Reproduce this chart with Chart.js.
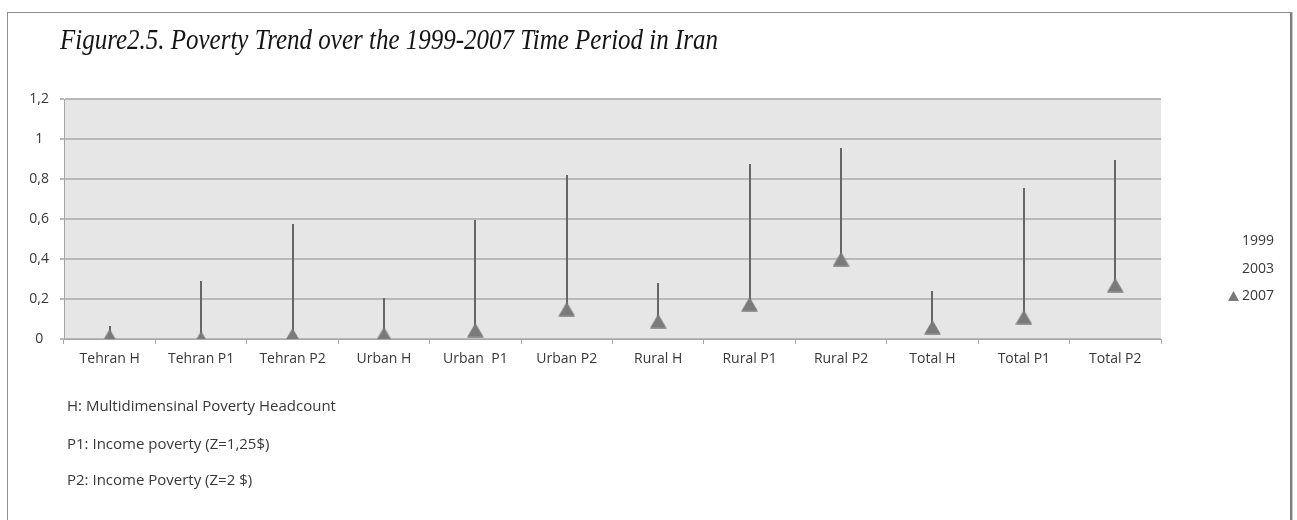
<!DOCTYPE html>
<html>
<head>
<meta charset="utf-8">
<script src="https://cdn.jsdelivr.net/npm/chart.js@4"></script>
<style>
  html, body { margin: 0; padding: 0; background: #fff; }
  #wrap { position: relative; width: 1297px; height: 520px; overflow: hidden; }
  #frame {
    position: absolute; left: 7px; top: 12px; width: 1282px; height: 600px;
    border-left: 1px solid #8e8e8e; border-top: 1px solid #8e8e8e;
    border-right: 2px solid #7c7c7c; box-shadow: 1px 0 0 #cfcfcf;
  }
  #chart { position: absolute; left: 0; top: 0; }
  #title {
    position: absolute; left: 60px; top: 24px; white-space: nowrap;
    font-family: "Liberation Serif", serif; font-style: italic; font-size: 30px;
    line-height: 1; color: #141414; transform-origin: 0 0;
  }
  .note {
    position: absolute; left: 67px; white-space: nowrap;
    font-family: "Open Sans", sans-serif; font-size: 15px; line-height: 20px; color: #383838;
  }
  .leg {
    position: absolute; right: 23px; white-space: nowrap; text-align: right;
    font-family: "Open Sans", sans-serif; font-size: 14px; line-height: 20px; color: #383838;
  }
  .leg svg { vertical-align: -1px; margin-right: 3px; }
</style>
</head>
<body>
<div id="wrap">
  <div id="frame"></div>
  <canvas id="chart" width="1297" height="520"></canvas>
  <div id="title">Figure2.5. Poverty Trend over the 1999-2007 Time Period in Iran</div>
  <div class="note" style="top:395px">H: Multidimensinal Poverty Headcount</div>
  <div class="note" style="top:433px">P1: Income poverty (Z=1,25$)</div>
  <div class="note" style="top:469px">P2: Income Poverty (Z=2 $)</div>
  <div class="leg" style="top:230px">1999</div>
  <div class="leg" style="top:258px">2003</div>
  <div class="leg" style="top:285px"><svg width="11" height="10" viewBox="0 0 11 10"><polygon points="5.5,0 11,10 0,10" fill="#7a7a7a"/></svg>2007</div>
</div>
<script>
// Poverty indicators per region (H = headcount, P1/P2 = income poverty lines)
const categories = ['Tehran H', 'Tehran P1', 'Tehran P2', 'Urban H', 'Urban  P1', 'Urban P2',
                    'Rural H', 'Rural P1', 'Rural P2', 'Total H', 'Total P1', 'Total P2'];
const poverty1999 = [0.065, 0.29, 0.575, 0.205, 0.595, 0.82, 0.28, 0.875, 0.955, 0.24, 0.755, 0.895];
const poverty2003 = [0.04, 0.12, 0.27, 0.10, 0.25, 0.42, 0.17, 0.45, 0.63, 0.14, 0.36, 0.52];
const poverty2007 = [0.015, 0.005, 0.02, 0.025, 0.045, 0.15, 0.09, 0.175, 0.40, 0.06, 0.11, 0.27];
const yTickValues = [0, 0.2, 0.4, 0.6, 0.8, 1, 1.2];

// Fit the title to the width of the heading line
const title = document.getElementById('title');
const tw = title.getBoundingClientRect().width;
title.style.transform = 'scaleX(' + (658 / tw) + ')';

// Triangle marker for the 2007 series
const tri = document.createElement('canvas');
tri.width = 17; tri.height = 15;
const tctx = tri.getContext('2d');
tctx.fillStyle = '#7a7a7a';
tctx.beginPath();
tctx.moveTo(8.5, 0.5); tctx.lineTo(16.8, 14.8); tctx.lineTo(0.2, 14.8);
tctx.closePath(); tctx.fill();

const plotBackground = {
  id: 'plotBackground',
  beforeDraw(chart) {
    const { ctx, chartArea: a } = chart;
    ctx.save();
    ctx.fillStyle = '#e6e6e6';
    ctx.fillRect(a.left, a.top, a.right - a.left, a.bottom - a.top);
    ctx.restore();
  }
};

// High-low lines joining the extreme values of each category
const hiLoLines = {
  id: 'hiLoLines',
  beforeDatasetsDraw(chart) {
    const { ctx, scales: { x, y } } = chart;
    ctx.save();
    ctx.strokeStyle = '#666666';
    ctx.lineWidth = 2;
    categories.forEach((c, i) => {
      const vals = chart.data.datasets.map(d => d.data[i]);
      const px = Math.round(x.getPixelForValue(i));
      ctx.beginPath();
      ctx.moveTo(px, y.getPixelForValue(Math.max(...vals)));
      ctx.lineTo(px, y.getPixelForValue(Math.min(...vals)));
      ctx.stroke();
    });
    ctx.restore();
  }
};

new Chart(document.getElementById('chart'), {
  type: 'line',
  data: {
    labels: categories,
    datasets: [
      { label: '1999', data: poverty1999, showLine: false, pointRadius: 0 },
      { label: '2003', data: poverty2003, showLine: false, pointRadius: 0 },
      { label: '2007', data: poverty2007, showLine: false, pointStyle: tri, pointRadius: 8,
        backgroundColor: '#7a7a7a', borderColor: '#7a7a7a' }
    ]
  },
  options: {
    responsive: false,
    animation: false,
    events: [],
    layout: { padding: { left: 0, right: 136, top: 99, bottom: 0 } },
    plugins: { legend: { display: false }, tooltip: { enabled: false }, title: { display: false } },
    scales: {
      x: {
        offset: true,
        afterFit(s) { s.height = 181; },
        grid: { offset: true, drawOnChartArea: false, drawTicks: true, tickLength: 5, color: '#a6a6a6' },
        border: { color: '#a6a6a6', width: 1 },
        ticks: { color: '#383838', font: { family: 'Open Sans', size: 14 }, maxRotation: 0, autoSkip: false, padding: 7 }
      },
      y: {
        min: 0, max: 1.2,
        afterFit(s) { s.width = 64; },
        afterBuildTicks(s) { s.ticks = yTickValues.map(v => ({ value: v })); },
        grid: { color: '#b9b9b9', lineWidth: 2, tickLength: 4 },
        border: { color: '#a6a6a6', width: 1 },
        ticks: {
          color: '#383838', font: { family: 'Open Sans', size: 14 }, crossAlign: 'center', padding: 11,
          callback: v => String(Math.round(v * 10) / 10).replace('.', ',')
        }
      }
    }
  },
  plugins: [plotBackground, hiLoLines]
});
</script>
</body>
</html>
